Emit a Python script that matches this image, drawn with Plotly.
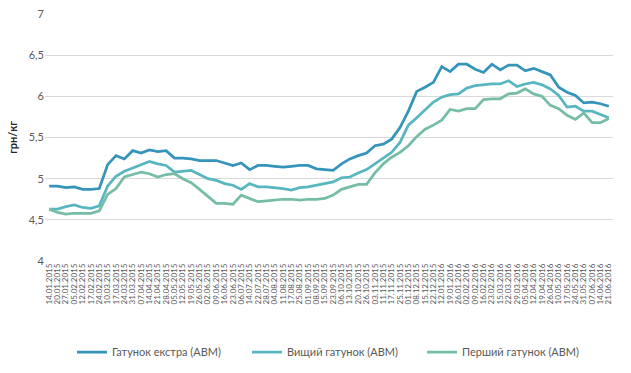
import plotly.graph_objects as go

dates_2015 = ["14.01", "20.01", "27.01", "05.02", "12.02", "17.02", "24.02", "10.03", "17.03", "24.03",
              "31.03", "07.04", "14.04", "21.04", "28.04", "05.05", "12.05", "19.05", "26.05", "02.06",
              "09.06", "16.06", "23.06", "06.07", "14.07", "22.07", "28.07", "04.08", "11.08", "17.08",
              "25.08", "01.09", "08.09", "15.09", "23.09", "06.10", "13.10", "20.10", "26.10", "03.11",
              "11.11", "17.11", "25.11", "01.12", "08.12", "15.12", "22.12"]
dates_2016 = ["12.01", "19.01", "26.01", "02.02", "09.02", "16.02", "23.02", "15.03", "22.03", "29.03",
              "05.04", "12.04", "19.04", "26.04", "10.05", "17.05", "24.05", "31.05", "07.06", "14.06", "21.06"]
categories = [d + ".2015" for d in dates_2015] + [d + ".2016" for d in dates_2016]

extra = [4.91, 4.91, 4.89, 4.90, 4.87, 4.87, 4.88, 5.17, 5.28, 5.24,
         5.34, 5.31, 5.35, 5.33, 5.34, 5.25, 5.25, 5.24, 5.22, 5.22,
         5.22, 5.19, 5.16, 5.19, 5.11, 5.16, 5.16, 5.15, 5.14, 5.15,
         5.16, 5.16, 5.12, 5.11, 5.10, 5.18, 5.24, 5.28, 5.31, 5.40,
         5.42, 5.48, 5.62, 5.82, 6.06, 6.11, 6.17, 6.36, 6.30, 6.39,
         6.39, 6.33, 6.29, 6.39, 6.32, 6.38, 6.38, 6.31, 6.34, 6.30,
         6.26, 6.11, 6.05, 6.01, 5.92, 5.93, 5.91, 5.88]
vyshchyi = [4.63, 4.63, 4.66, 4.68, 4.65, 4.64, 4.67, 4.91, 5.03, 5.09,
            5.13, 5.17, 5.21, 5.18, 5.16, 5.08, 5.09, 5.10, 5.05, 5.00,
            4.98, 4.94, 4.92, 4.87, 4.94, 4.90, 4.90, 4.89, 4.88, 4.86,
            4.89, 4.90, 4.92, 4.94, 4.96, 5.01, 5.02, 5.07, 5.11, 5.18,
            5.25, 5.32, 5.44, 5.65, 5.74, 5.83, 5.93, 5.99, 6.02, 6.03,
            6.10, 6.13, 6.14, 6.15, 6.15, 6.19, 6.12, 6.15, 6.17, 6.14,
            6.09, 6.01, 5.87, 5.88, 5.82, 5.82, 5.78, 5.74]
pershyi = [4.63, 4.59, 4.57, 4.58, 4.58, 4.58, 4.61, 4.81, 4.88, 5.02,
           5.05, 5.08, 5.06, 5.02, 5.05, 5.06, 5.00, 4.95, 4.87, 4.78,
           4.70, 4.70, 4.69, 4.80, 4.76, 4.72, 4.73, 4.74, 4.75, 4.75,
           4.74, 4.75, 4.75, 4.76, 4.80, 4.87, 4.90, 4.93, 4.93, 5.07,
           5.18, 5.26, 5.32, 5.40, 5.51, 5.60, 5.65, 5.71, 5.84, 5.82,
           5.85, 5.85, 5.96, 5.97, 5.97, 6.03, 6.04, 6.09, 6.03, 6.00,
           5.89, 5.85, 5.77, 5.72, 5.80, 5.68, 5.68, 5.73]

series_names = ["Гатунок екстра (АВМ)", "Вищий гатунок (АВМ)", "Перший гатунок (АВМ)"]
series_values = [extra, vyshchyi, pershyi]
colors = ["#3494BA", "#58B6C0", "#75BDA7"]

FONT = "Lato, 'Liberation Sans', sans-serif"
GREY = "#595959"

fig = go.Figure()
for name, vals, col in zip(series_names, series_values, colors):
    fig.add_trace(go.Scatter(x=categories, y=vals, name=name, mode="lines",
                             line=dict(color=col, width=2.75)))

fig.update_layout(
    width=631, height=373,
    margin=dict(l=45, r=18, t=14, b=112, autoexpand=False),
    paper_bgcolor="white", plot_bgcolor="white",
    separators=", ",
    font=dict(family=FONT, color=GREY, size=11),
    showlegend=True,
    legend=dict(orientation="h", x=72 / 631, xanchor="left", xref="container",
                y=0.056, yanchor="middle", yref="container",
                font=dict(family=FONT, size=11, color=GREY),
                entrywidth=130, itemwidth=30, tracegroupgap=0),
)
fig.update_xaxes(type="category", range=[-0.5, len(categories) - 0.5],
                 tickmode="linear", tick0=0, dtick=1, automargin=False,
                 tickangle=-90, tickfont=dict(size=8, color=GREY, family=FONT),
                 showgrid=False, showline=False, zeroline=False, ticks="")
fig.update_yaxes(range=[4, 7], dtick=0.5, tick0=4, showgrid=True, gridcolor="#D9D9D9", gridwidth=1,
                 zeroline=False, showline=False, ticks="", automargin=False,
                 tickfont=dict(size=11, color=GREY, family=FONT),
                 title=dict(text="<b>грн/кг</b>", font=dict(size=11, color="#262626", family=FONT), standoff=8))

fig.write_html("out.html", config={"displayModeBar": False},
               post_script="document.body.style.margin='0';")
